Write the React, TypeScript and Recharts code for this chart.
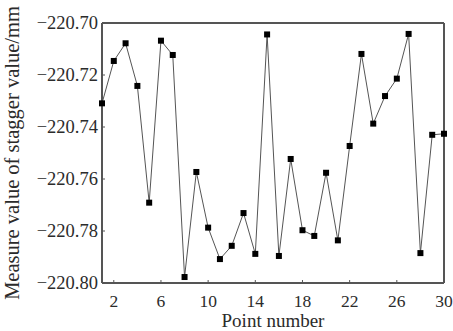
import { LineChart, Line, XAxis, YAxis, ReferenceLine, Label } from "recharts";

const pointNumbers = [
  1, 2, 3, 4, 5, 6, 7, 8, 9, 10, 11, 12, 13, 14, 15,
  16, 17, 18, 19, 20, 21, 22, 23, 24, 25, 26, 27, 28, 29, 30,
];
const staggerValues = [
  -220.7309, -220.7146, -220.7078, -220.7242, -220.7691, -220.7068, -220.7123, -220.7977,
  -220.7573, -220.7787, -220.7908, -220.7857, -220.7731, -220.7888, -220.7044, -220.7896,
  -220.7523, -220.7797, -220.7819, -220.7576, -220.7836, -220.7473, -220.7119, -220.7387,
  -220.7281, -220.7214, -220.7042, -220.7885, -220.743, -220.7426,
];
const xTicks = [2, 6, 10, 14, 18, 22, 26, 30];
const yTicks = [-220.8, -220.78, -220.76, -220.74, -220.72, -220.7];

const data = pointNumbers.map((p, i) => ({ point: p, value: staggerValues[i] }));

const FONT = '"Liberation Serif", "DejaVu Serif", serif';
const INK = "#2b2b2b";
const AXIS = "#555";

function XTick({ x, y, payload }: any) {
  return (
    <g>
      <line x1={x} y1={y} x2={x} y2={y - 3} stroke={AXIS} strokeWidth={1} />
      <text x={x} y={y + 24} textAnchor="middle" fontFamily={FONT} fontSize={17.5} fill={INK}>
        {payload.value}
      </text>
    </g>
  );
}

function YTick({ x, y, payload }: any) {
  return (
    <g>
      <line x1={x} y1={y} x2={x + 3} y2={y} stroke={AXIS} strokeWidth={1} />
      <text x={x - 4} y={y + 6} textAnchor="end" fontFamily={FONT} fontSize={18.5} fill={INK}>
        {"\u2212" + Math.abs(payload.value).toFixed(2)}
      </text>
    </g>
  );
}

function Square({ cx, cy }: any) {
  if (cx == null || cy == null) return null;
  return <rect x={cx - 3} y={cy - 3} width={6} height={6} fill="#000" />;
}

export default function App() {
  return (
    <div style={{ position: "absolute", left: 0, top: 0, background: "#fff" }}>
      <LineChart
        width={453}
        height={331}
        data={data}
        margin={{ top: 23, right: 9, bottom: 0, left: 0 }}
      >
        <XAxis
          dataKey="point"
          type="number"
          domain={[1, 30]}
          ticks={xTicks}
          interval={0}
          height={48}
          tickSize={0}
          tickMargin={0}
          tickLine={false}
          tick={<XTick />}
          axisLine={{ stroke: AXIS, strokeWidth: 2 }}
        >
          <Label
            value="Point number"
            position="insideBottom"
            offset={4}
            style={{ fontFamily: FONT, fontSize: 19, fill: INK }}
          />
        </XAxis>
        <YAxis
          type="number"
          domain={[-220.8, -220.7]}
          ticks={yTicks}
          interval={0}
          width={102}
          tickSize={0}
          tickMargin={0}
          tickLine={false}
          tick={<YTick />}
          allowDataOverflow
          axisLine={{ stroke: AXIS, strokeWidth: 2 }}
        >
          <Label
            value="Measure value of stagger value/mm"
            position="insideLeft"
            angle={-90}
            offset={12}
            style={{ fontFamily: FONT, fontSize: 20.5, fill: INK, textAnchor: "middle" }}
          />
        </YAxis>
        <ReferenceLine y={-220.7} stroke={AXIS} strokeWidth={2} />
        <ReferenceLine x={30} stroke={AXIS} strokeWidth={2} />
        <Line
          dataKey="value"
          stroke="#555"
          strokeWidth={1}
          dot={<Square />}
          activeDot={false}
          isAnimationActive={false}
        />
      </LineChart>
    </div>
  );
}
